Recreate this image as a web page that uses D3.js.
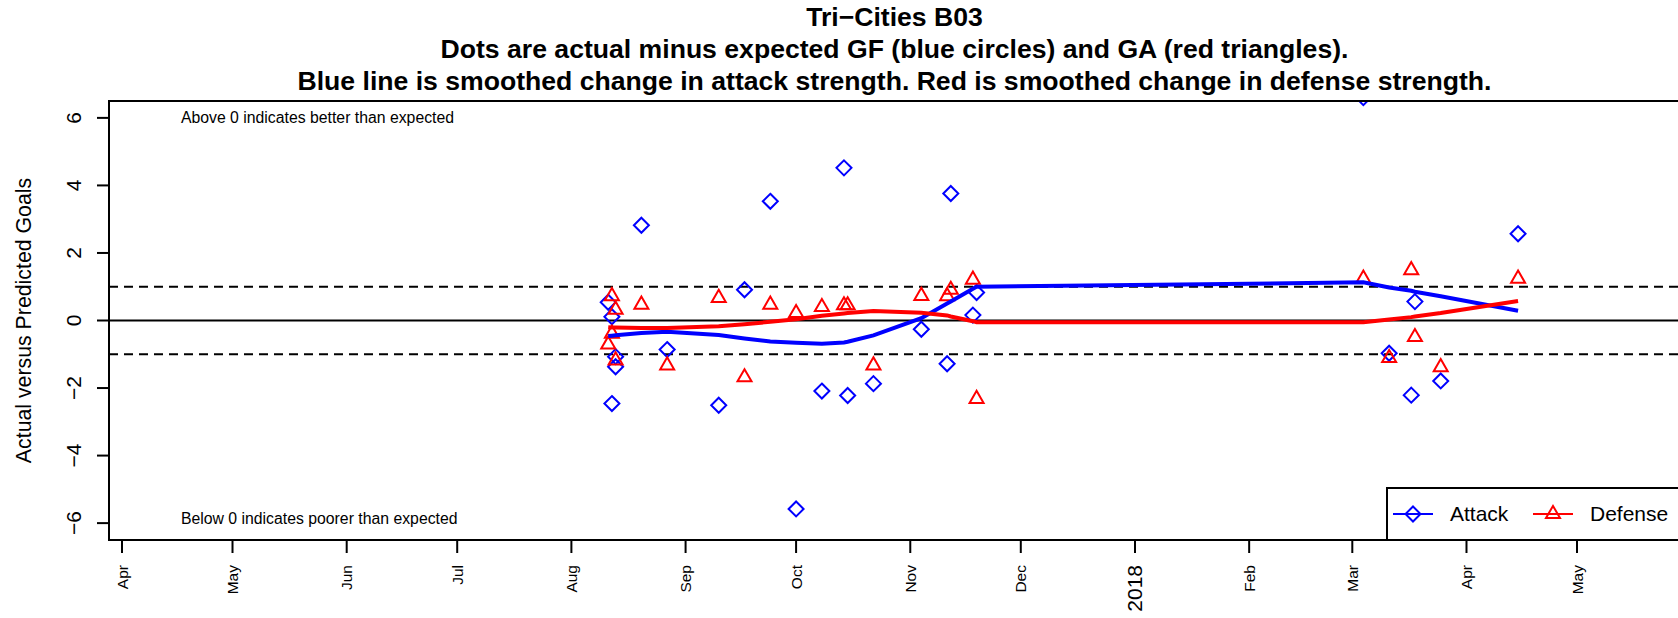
<!DOCTYPE html>
<html>
<head>
<meta charset="utf-8">
<script src="https://cdn.jsdelivr.net/npm/d3@7"></script>
<style>
  body { margin:0; background:#fff; }
  text { font-family:"Liberation Sans", Arial, Helvetica, sans-serif; }
</style>
</head>
<body>
<script>
// game dates, one entry per match
var gameDates = ["2017-08-11","2017-08-12","2017-08-12","2017-08-13","2017-08-13","2017-08-20",
  "2017-08-27","2017-09-10","2017-09-17","2017-09-24","2017-10-01","2017-10-08","2017-10-14",
  "2017-10-15","2017-10-22","2017-11-04","2017-11-11","2017-11-12","2017-11-18","2017-11-19",
  "2018-03-04","2018-03-11","2018-03-17","2018-03-18","2018-03-25","2018-04-15"];
// actual minus expected GF (blue) and GA (red)
var attack = [0.54,0.11,-2.46,-1.07,-1.37,2.82,-0.86,-2.51,0.91,3.53,-5.58,-2.09,4.52,
  -2.22,-1.87,-0.26,-1.28,3.76,0.16,0.83,6.6,-0.97,-2.21,0.56,-1.79,2.57];
var defense = [-0.71,0.72,-0.39,0.32,-1.18,0.47,-1.33,0.67,-1.68,0.47,0.22,0.40,0.45,
  0.45,-1.33,0.73,0.72,0.91,1.21,-2.32,1.24,-1.11,1.49,-0.49,-1.38,1.24];
// smoothed change in strength
var attackSmooth = [-0.46,-0.45,-0.45,-0.44,-0.44,-0.37,-0.33,-0.43,-0.53,-0.62,-0.66,-0.69,-0.65,
  -0.63,-0.44,0.07,0.50,0.56,0.94,1.00,1.13,0.98,0.88,0.85,0.72,0.29];
var defenseSmooth = [-0.20,-0.21,-0.21,-0.21,-0.21,-0.22,-0.22,-0.17,-0.11,-0.04,0.04,0.14,0.21,
  0.22,0.28,0.23,0.15,0.12,-0.02,-0.05,-0.05,0.03,0.10,0.12,0.22,0.58];

var yTicks = [-6,-4,-2,0,2,4,6];
var refLines = [-1,1];
var monthTicks = ["2017-04-01","2017-05-01","2017-06-01","2017-07-01","2017-08-01","2017-09-01",
  "2017-10-01","2017-11-01","2017-12-01","2018-01-01","2018-02-01","2018-03-01","2018-04-01","2018-05-01"];
var monthLabels = ["Apr","May","Jun","Jul","Aug","Sep","Oct","Nov","Dec","2018","Feb","Mar","Apr","May"];
var titleLines = ["Tri\u2212Cities B03",
  "Dots are actual minus expected GF (blue circles) and GA (red triangles).",
  "Blue line is smoothed change in attack strength. Red is smoothed change in defense strength."];
var notes = [{date:"2017-04-17", v:6, text:"Above 0 indicates better than expected"},
             {date:"2017-04-17", v:-5.87, text:"Below 0 indicates poorer than expected"}];

var params = {width:1678, height:618, left:109, right:1680, top:101, bottom:540};
var parse = d3.timeParse("%Y-%m-%d");
var fmtMinus = function(v){ return String(v).replace("-", "\u2212"); };

var svg = d3.select('body').append('svg')
  .attr('width', params.width).attr('height', params.height);

var x = d3.scaleTime()
  .domain([parse("2017-04-01"), parse("2018-05-01")])
  .range([122, 1577]);
var y = d3.scaleLinear().domain([-6.5, 6.5]).range([params.bottom, params.top]);

svg.append('defs').append('clipPath').attr('id','plotclip')
  .append('rect')
  .attr('x', params.left).attr('y', params.top)
  .attr('width', params.right - params.left).attr('height', params.bottom - params.top);

// titles
svg.selectAll('text.title').data(titleLines).enter().append('text')
  .attr('class','title')
  .attr('x', (params.left + params.right) / 2)
  .attr('y', function(d,i){ return 26 + i * 32; })
  .attr('text-anchor','middle')
  .style('font-weight','bold').style('font-size','26.6px')
  .text(function(d){ return d; });

// y axis
var yAxis = svg.append('g');
yAxis.selectAll('line').data(yTicks).enter().append('line')
  .attr('x1', params.left - 12).attr('x2', params.left)
  .attr('y1', function(d){ return y(d); }).attr('y2', function(d){ return y(d); })
  .style('stroke','#000').style('stroke-width',2);
yAxis.selectAll('text').data(yTicks).enter().append('text')
  .attr('transform', function(d){ return 'translate(81,' + y(d) + ') rotate(-90)'; })
  .attr('text-anchor','middle')
  .style('font-size','21px')
  .text(function(d){ return fmtMinus(d); });
svg.append('text')
  .attr('transform','translate(31,' + y(0) + ') rotate(-90)')
  .attr('text-anchor','middle')
  .style('font-size','21.3px')
  .text('Actual versus Predicted Goals');

// x axis
var xAxis = svg.append('g');
xAxis.append('line')
  .attr('x1', x(parse(monthTicks[0]))).attr('x2', params.right)
  .attr('y1', params.bottom).attr('y2', params.bottom)
  .style('stroke','#000').style('stroke-width',2);
xAxis.selectAll('line.tick').data(monthTicks).enter().append('line')
  .attr('class','tick')
  .attr('x1', function(d){ return x(parse(d)); }).attr('x2', function(d){ return x(parse(d)); })
  .attr('y1', params.bottom).attr('y2', params.bottom + 13)
  .style('stroke','#000').style('stroke-width',2);
xAxis.selectAll('text').data(monthTicks).enter().append('text')
  .attr('transform', function(d,i){
    var big = monthLabels[i] === "2018";
    return 'translate(' + (x(parse(d)) + (big ? 7.5 : 5.5)) + ',565) rotate(-90)';
  })
  .attr('text-anchor','end')
  .style('font-size', function(d,i){ return monthLabels[i] === "2018" ? '21px' : '15.5px'; })
  .text(function(d,i){ return monthLabels[i]; });

// reference lines
var plot = svg.append('g').attr('clip-path','url(#plotclip)');
plot.selectAll('line.ref').data(refLines).enter().append('line')
  .attr('class','ref')
  .attr('x1', params.left).attr('x2', params.right)
  .attr('y1', function(d){ return y(d); }).attr('y2', function(d){ return y(d); })
  .style('stroke','#000').style('stroke-width',2).style('stroke-dasharray','9,6');
plot.append('line')
  .attr('x1', params.left).attr('x2', params.right)
  .attr('y1', y(0)).attr('y2', y(0))
  .style('stroke','#000').style('stroke-width',2);

// notes
svg.selectAll('text.note').data(notes).enter().append('text')
  .attr('class','note')
  .attr('x', function(d){ return x(parse(d.date)); })
  .attr('y', function(d){ return y(d.v); })
  .attr('dy','0.35em')
  .style('font-size','15.8px')
  .text(function(d){ return d.text; });

var diamond = "M0,-7.5L7.5,0L0,7.5L-7.5,0Z";
var triangle = "M0,-8.1L7,4.05L-7,4.05Z";

// points
plot.selectAll('path.gf').data(gameDates).enter().append('path')
  .attr('class','gf')
  .attr('d', diamond)
  .attr('transform', function(d,i){ return 'translate(' + x(parse(d)) + ',' + y(attack[i]) + ')'; })
  .style('fill','none').style('stroke','#0000ff').style('stroke-width',2);
plot.selectAll('path.ga').data(gameDates).enter().append('path')
  .attr('class','ga')
  .attr('d', triangle)
  .attr('transform', function(d,i){ return 'translate(' + x(parse(d)) + ',' + y(defense[i]) + ')'; })
  .style('fill','none').style('stroke','#ff0000').style('stroke-width',2);

// smoothed lines
var lineOf = function(vals){
  return d3.line()
    .x(function(d){ return x(parse(d)); })
    .y(function(d,i){ return y(vals[i]); })(gameDates);
};
plot.append('path').attr('d', lineOf(attackSmooth))
  .style('fill','none').style('stroke','#0000ff').style('stroke-width',4);
plot.append('path').attr('d', lineOf(defenseSmooth))
  .style('fill','none').style('stroke','#ff0000').style('stroke-width',4);

// box
svg.append('rect')
  .attr('x', params.left).attr('y', params.top)
  .attr('width', params.right - params.left).attr('height', params.bottom - params.top)
  .style('fill','none').style('stroke','#000').style('stroke-width',2);

// legend
var leg = svg.append('g');
leg.append('rect')
  .attr('x', 1387).attr('y', 488).attr('width', params.right - 1387).attr('height', params.bottom - 488)
  .style('fill','#fff').style('stroke','#000').style('stroke-width',2);
var legItems = [{name:"Attack", color:"#0000ff", shape:diamond, x0:1393},
                {name:"Defense", color:"#ff0000", shape:triangle, x0:1533}];
legItems.forEach(function(d){
  leg.append('line').attr('x1', d.x0).attr('x2', d.x0 + 40).attr('y1', 514).attr('y2', 514)
    .style('stroke', d.color).style('stroke-width', 2);
  leg.append('path').attr('d', d.shape).attr('transform','translate(' + (d.x0 + 20) + ',514)')
    .style('fill','none').style('stroke', d.color).style('stroke-width', 2);
  leg.append('text').attr('x', d.x0 + 57).attr('y', 514).attr('dy','0.35em')
    .style('font-size','21px').text(d.name);
});
</script>
</body>
</html>
